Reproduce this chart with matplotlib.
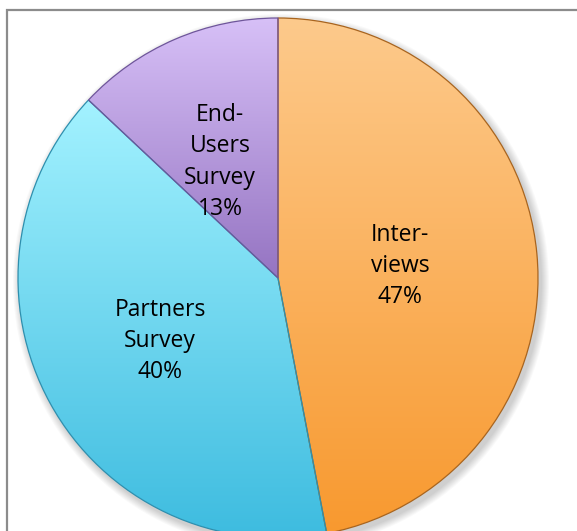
import numpy as np
import matplotlib.pyplot as plt
from matplotlib.patches import Rectangle, Circle
from matplotlib.colors import LinearSegmentedColormap

labels = ['Inter-\nviews', 'Partners\nSurvey', 'End-\nUsers\nSurvey']
values = [47, 40, 13]
# top / bottom colour of each slice's vertical gradient
tops = ['#FDCA8C', '#A3F2FF', '#D7C0F7']
bottoms = ['#F8992F', '#3CBBDF', '#9574C2']
edges = ['#A8641E', '#2E8FAE', '#6E559A']

W, H = 577, 531
cx, cy, r = 278, 253, 260

fig = plt.figure(figsize=(W / 100, H / 100), dpi=100)
ax = fig.add_axes([0, 0, 1, 1])

# soft drop shadow under the pie
for k in range(8):
    ax.add_patch(Circle((cx + 3, cy - 4), r + 8 - k, color='#000000', alpha=0.025, lw=0, zorder=0))
ax.add_patch(Circle((cx, cy), r, color='white', lw=0, zorder=0.5))

wedges, texts = ax.pie(values, startangle=90, counterclock=False, center=(cx, cy), radius=r,
                       colors=['none'] * 3, wedgeprops=dict(lw=0), frame=True)

for w, top, bot, ec in zip(wedges, tops, bottoms, edges):
    verts = w.get_path().vertices
    x0, x1 = verts[:, 0].min(), verts[:, 0].max()
    y0, y1 = verts[:, 1].min(), verts[:, 1].max()
    cmap = LinearSegmentedColormap.from_list('g', [bot, top])
    grad = np.linspace(0, 1, 256).reshape(-1, 1)
    im = ax.imshow(grad, cmap=cmap, extent=(x0, x1, y0, y1), origin='lower',
                   aspect='auto', zorder=1, interpolation='bicubic')
    im.set_clip_path(w)
    w.set_zorder(2)
    w.set_edgecolor(ec)
    w.set_linewidth(0.9)

# labels placed inside each slice
label_pos = [(400, 265), (160, 190), (220, 369)]
for (lx, ly), lab, v in zip(label_pos, labels, values):
    ax.text(lx, ly, f'{lab}\n{v}%', ha='center', va='center', fontsize=16.5,
            family='Open Sans', linespacing=1.4, color='black', zorder=5)

# chart area border (continues past the right and bottom edges)
ax.add_patch(Rectangle((7, -20), W + 20, H - 10 + 20, fill=False, ec='#8C8C8C', lw=1.6, zorder=6))

ax.set_xlim(0, W)
ax.set_ylim(0, H)
ax.set_aspect('auto')
ax.axis('off')

fig.savefig('out.png', dpi=100)
